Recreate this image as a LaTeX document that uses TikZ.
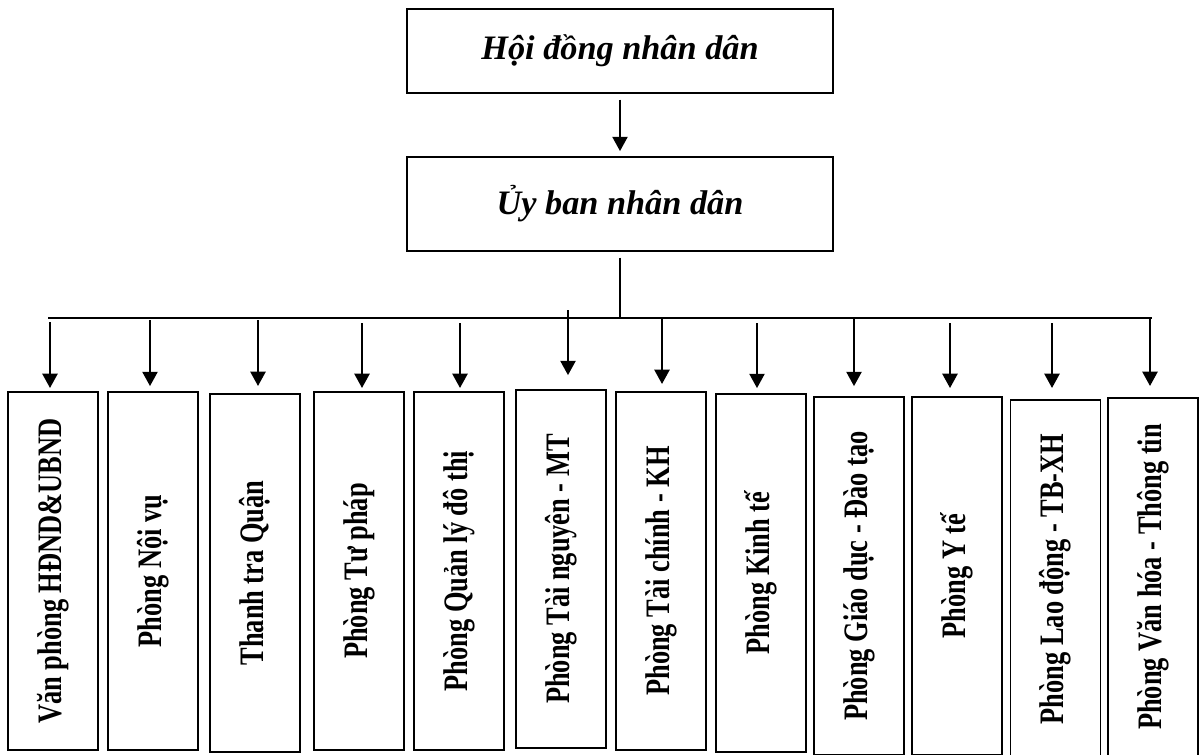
\documentclass[tikz,border=0pt]{standalone}
\usepackage{fontspec}
\setmainfont{Liberation Serif}
\usepackage{graphicx}
\usetikzlibrary{arrows.meta}

\newcommand{\vtext}[1]{\rotatebox{90}{\scalebox{0.77}[1]{#1}}}

\begin{document}
\begin{tikzpicture}[x=0.525pt,y=-0.525pt]
\tikzset{head/.style = {draw, line width=1pt, minimum width=224pt, font=\fontsize{18}{22}\selectfont\bfseries\itshape}}
\tikzset{dept/.style = {draw, line width=1pt, minimum width=47.25pt, minimum height=188pt, inner sep=0pt, font=\fontsize{18}{22}\selectfont\bfseries}}
\tikzset{edge/.style = {line width=0.9pt, -{Triangle[width=8pt,length=7.5pt]}}}
\tikzset{link/.style = {line width=0.9pt}}
\useasboundingbox (0,0) rectangle (1200,754);
\node[head, minimum height=44pt](hd) at (620, 51) {Hội đồng nhân dân};
\node[head, minimum height=49.4pt](ub) at (620, 204) {Ủy ban nhân dân};
\draw[edge, shorten <=3pt, shorten >=2.6pt] (hd) -- (ub);
% cac phong ban
\node[dept](d1) at (53, 571) {\vtext{Văn phòng HĐND\&UBND}};
\node[dept](d2) at (153, 571) {\vtext{Phòng Nội vụ}};
\node[dept](d3) at (255, 573) {\vtext{Thanh tra Quận}};
\node[dept](d4) at (359, 571) {\vtext{Phòng Tư pháp}};
\node[dept](d5) at (459, 571) {\vtext{Phòng Quản lý đô thị}};
\node[dept](d6) at (561, 569) {\vtext{Phòng Tài nguyên - MT}};
\node[dept](d7) at (661, 571) {\vtext{Phòng Tài chính - KH}};
\node[dept](d8) at (761, 573) {\vtext{Phòng Kinh tế}};
\node[dept](d9) at (859, 576) {\vtext{Phòng Giáo dục - Đào tạo}};
\node[dept](d10) at (957, 576) {\vtext{Phòng Y tế}};
\node[dept](d11) at (1055.5, 579) {\vtext{Phòng Lao động - TB-XH}};
\node[dept](d12) at (1153, 577) {\vtext{Phòng Văn hóa - Thông tin}};
% duong nhanh
\coordinate (hl) at (48, 318);
\coordinate (hr) at (1152, 318);
\coordinate (hm) at (620, 318);
\draw[link] (hl) -- (hr);
\draw[link, shorten <=3pt] (ub) -- (hm);
\coordinate (a1) at (50, 322);
\coordinate (a2) at (150, 320);
\coordinate (a3) at (258, 320);
\coordinate (a4) at (362, 323);
\coordinate (a5) at (460, 323);
\coordinate (a6) at (568, 310);
\coordinate (a7) at (662, 318);
\coordinate (a8) at (757, 323);
\coordinate (a9) at (854, 318);
\coordinate (a10) at (950, 323);
\coordinate (a11) at (1052, 323);
\coordinate (a12) at (1150, 318);
\draw[edge, shorten >=1.6pt] (a1) -- (a1 |- d1.north);
\draw[edge, shorten >=2.6pt] (a2) -- (a2 |- d2.north);
\draw[edge, shorten >=3.7pt] (a3) -- (a3 |- d3.north);
\draw[edge, shorten >=1.6pt] (a4) -- (a4 |- d4.north);
\draw[edge, shorten >=1.6pt] (a5) -- (a5 |- d5.north);
\draw[edge, shorten >=7.3pt] (a6) -- (a6 |- d6.north);
\draw[edge, shorten >=3.7pt] (a7) -- (a7 |- d7.north);
\draw[edge, shorten >=2.6pt] (a8) -- (a8 |- d8.north);
\draw[edge, shorten >=5.2pt] (a9) -- (a9 |- d9.north);
\draw[edge, shorten >=4.2pt] (a10) -- (a10 |- d10.north);
\draw[edge, shorten >=5.8pt] (a11) -- (a11 |- d11.north);
\draw[edge, shorten >=5.8pt] (a12) -- (a12 |- d12.north);
\end{tikzpicture}
\end{document}
